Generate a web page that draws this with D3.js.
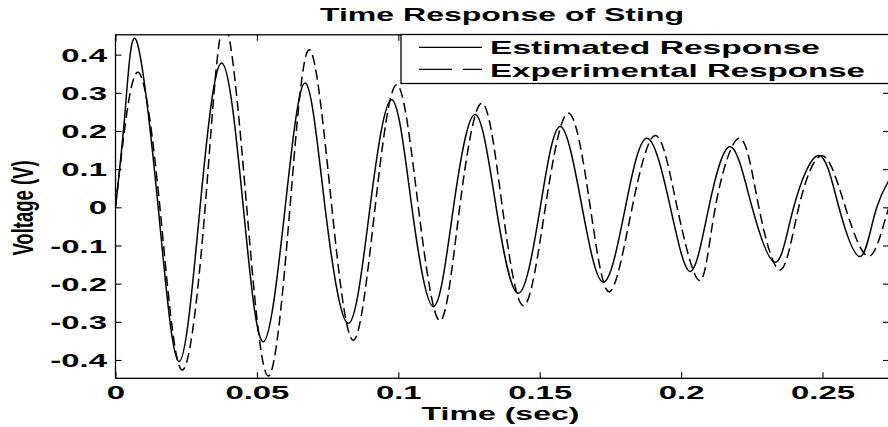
<!DOCTYPE html>
<html><head><meta charset="utf-8">
<script src="https://cdn.jsdelivr.net/npm/d3@7"></script>
<style>
html,body{margin:0;padding:0;background:#fff;}
svg{display:block;}
text{font-family:"Liberation Sans",Arial,Helvetica,sans-serif;font-weight:bold;fill:#000;}
</style></head>
<body>
<svg id="chart" width="888" height="427"></svg>
<script>
// ---- data ----
const chartTitle = "Time Response of Sting";
const xLabel = "Time (sec)";
const yLabel = "Voltage (V)";
const seriesNames = ["Estimated Response", "Experimental Response"];

const xTicks = [0, 0.05, 0.1, 0.15, 0.2, 0.25];
const xTickLabels = ["0", "0.05", "0.1", "0.15", "0.2", "0.25"];
const yTicks = [0.4, 0.3, 0.2, 0.1, 0, -0.1, -0.2, -0.3, -0.4];
const yTickLabels = ["0.4", "0.3", "0.2", "0.1", "0", "-0.1", "-0.2", "-0.3", "-0.4"];

// Estimated response (solid): time (s) and voltage (V) at start, peaks, zero crossings, troughs
const estTime = [0, 0.0035, 0.0075, 0.0151, 0.0225, 0.0299, 0.0376, 0.0452, 0.0523, 0.0600,
  0.0671, 0.0741, 0.0824, 0.0900, 0.0977, 0.1048, 0.1125, 0.1195, 0.1272, 0.1346,
  0.1425, 0.1502, 0.1573, 0.1650, 0.1726, 0.1803, 0.1880, 0.1962, 0.2033, 0.2098,
  0.2174, 0.2251, 0.2334, 0.2398, 0.2487, 0.2558, 0.2634, 0.2692, 0.2780];
const estVolt = [0, 0.26, 0.435, 0, -0.404, 0, 0.378, 0, -0.352, 0,
  0.326, 0, -0.304, 0, 0.282, 0, -0.260, 0, 0.243, 0,
  -0.225, 0, 0.212, 0, -0.196, 0, 0.181, 0, -0.168, 0,
  0.159, 0, -0.144, 0, 0.136, 0, -0.129, 0, 0.12];

// Experimental response (dashed)
const expTime = [0, 0.0028, 0.0084, 0.0157, 0.0234, 0.0317, 0.0385, 0.0464, 0.0541, 0.0617,
  0.0686, 0.0765, 0.0842, 0.0918, 0.0995, 0.1071, 0.1148, 0.1217, 0.1296, 0.1368,
  0.1443, 0.1520, 0.1602, 0.1679, 0.1747, 0.1827, 0.1910, 0.1986, 0.2066, 0.2121,
  0.2207, 0.2275, 0.2351, 0.2416, 0.2499, 0.2581, 0.2665, 0.2735, 0.2810];
const expVolt = [0, 0.18, 0.352, 0, -0.426, 0, 0.48, 0, -0.442, 0,
  0.413, 0, -0.348, 0, 0.321, 0, -0.297, 0, 0.273, 0,
  -0.258, 0, 0.247, 0, -0.221, 0, 0.188, 0, -0.192, 0,
  0.181, 0, -0.164, 0, 0.135, 0, -0.128, 0, 0.12];

// ---- layout ----
const W = 888, H = 427;
const plot = {left: 115.5, right: 889, top: 34.8, bottom: 378.3};
const SX = 1.78;       // horizontal stretch of the original figure's text
const FS = 18.5;

const svg = d3.select("#chart");
svg.append("rect").attr("width", W).attr("height", H).attr("fill", "#fff");

const x = d3.scaleLinear().domain([0, (plot.right - plot.left) / 2828]).range([plot.left, plot.right]);
const y = d3.scaleLinear().domain([-0.448, 0.452]).range([plot.bottom, plot.top]);

svg.append("defs").append("clipPath").attr("id", "clip")
  .append("rect").attr("x", plot.left).attr("y", plot.top)
  .attr("width", plot.right - plot.left).attr("height", plot.bottom - plot.top);

const line = d3.line().x(d => x(d[0])).y(d => y(d[1])).curve(d3.curveNatural);
const estData = estTime.map((t, i) => [t, estVolt[i]]);
const expData = expTime.map((t, i) => [t, expVolt[i]]);

const curves = svg.append("g").attr("clip-path", "url(#clip)");
curves.append("path").datum(estData).attr("d", line)
  .attr("fill", "none").attr("stroke", "#000").attr("stroke-width", 1.5);
curves.append("path").datum(expData).attr("d", line)
  .attr("fill", "none").attr("stroke", "#000").attr("stroke-width", 1.5)
  .attr("stroke-dasharray", "10,5");

// ---- axes ----
const axisStyle = sel => {
  sel.select(".domain").remove();
  sel.selectAll(".tick line").attr("stroke", "#000").attr("stroke-width", 1.1);
};
// left
const gl = svg.append("g").attr("transform", `translate(${plot.left},0)`)
  .call(d3.axisLeft(y).tickValues(yTicks).tickFormat((d, i) => yTickLabels[i]).tickSizeInner(-6).tickSizeOuter(0))
  .call(axisStyle);
gl.selectAll("text").attr("x", 0).attr("dy", "0.36em")
  .attr("font-size", FS).attr("font-family", null).attr("fill", "#000")
  .attr("transform", `translate(-8.5,0) scale(${SX},1)`);
// right
svg.append("g").attr("transform", `translate(${plot.right},0)`)
  .call(d3.axisRight(y).tickValues(yTicks).tickFormat("").tickSizeInner(-6).tickSizeOuter(0))
  .call(axisStyle);
// bottom
const gb = svg.append("g").attr("transform", `translate(0,${plot.bottom})`)
  .call(d3.axisBottom(x).tickValues(xTicks).tickFormat((d, i) => xTickLabels[i]).tickSizeInner(-6).tickSizeOuter(0))
  .call(axisStyle);
gb.selectAll("text").attr("y", 0).attr("dy", null)
  .attr("font-size", FS).attr("font-family", null).attr("fill", "#000")
  .attr("transform", `translate(0,20.5) scale(${SX},1)`);
// top
svg.append("g").attr("transform", `translate(0,${plot.top})`)
  .call(d3.axisTop(x).tickValues(xTicks).tickFormat("").tickSizeInner(-6).tickSizeOuter(0))
  .call(axisStyle);

// frame
svg.append("rect").attr("x", plot.left).attr("y", plot.top)
  .attr("width", plot.right - plot.left).attr("height", plot.bottom - plot.top)
  .attr("fill", "none").attr("stroke", "#000").attr("stroke-width", 1.3);

// ---- titles ----
svg.append("text").attr("x", 502).attr("y", 21).attr("text-anchor", "middle")
  .attr("font-size", FS).attr("textLength", 364).attr("lengthAdjust", "spacingAndGlyphs")
  .text(chartTitle);
svg.append("text").attr("x", 500.5).attr("y", 420).attr("text-anchor", "middle")
  .attr("font-size", FS).attr("textLength", 158).attr("lengthAdjust", "spacingAndGlyphs")
  .text(xLabel);
svg.append("text").attr("text-anchor", "middle").attr("font-size", FS)
  .attr("transform", "translate(33,208) scale(1.6,1) rotate(-90)")
  .text(yLabel);

// ---- legend ----
const lg = svg.append("g");
lg.append("rect").attr("x", 401).attr("y", 34.5).attr("width", 500).attr("height", 49)
  .attr("fill", "#fff").attr("stroke", "#000").attr("stroke-width", 1.3);
const legendRows = [
  {name: seriesNames[0], dash: null, ly: 47.3, ty: 54, len: 330},
  {name: seriesNames[1], dash: "33,11", ly: 69.3, ty: 77, len: 375}
];
legendRows.forEach(r => {
  lg.append("line").attr("x1", 419).attr("x2", 482).attr("y1", r.ly).attr("y2", r.ly)
    .attr("stroke", "#000").attr("stroke-width", 1.3).attr("stroke-dasharray", r.dash);
  lg.append("text").attr("x", 490).attr("y", r.ty).attr("font-size", FS)
    .attr("textLength", r.len).attr("lengthAdjust", "spacingAndGlyphs").text(r.name);
});
</script>
</body></html>
